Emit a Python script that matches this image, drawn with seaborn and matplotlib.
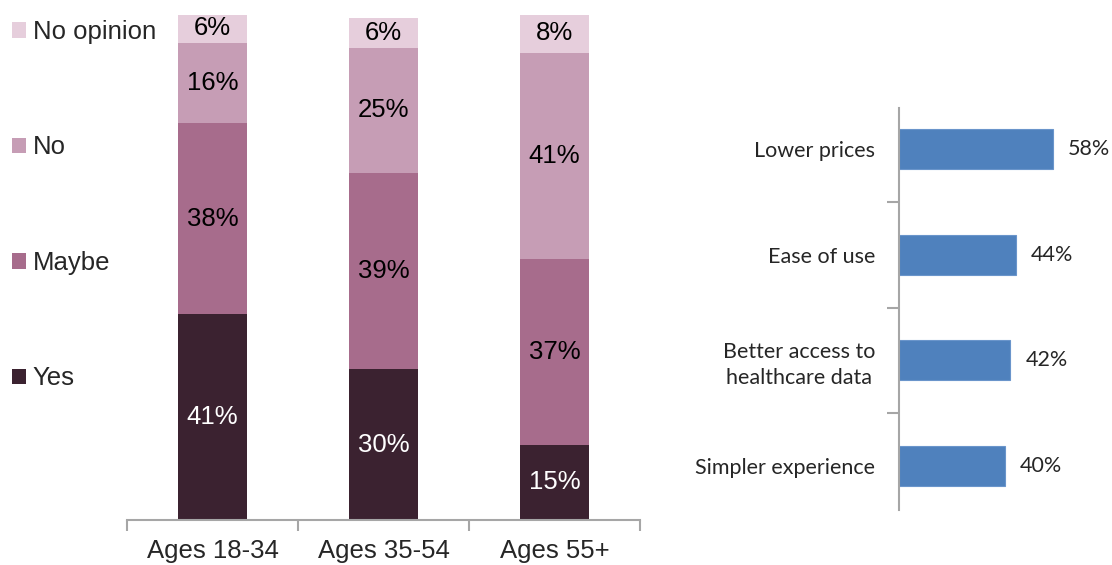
import matplotlib
matplotlib.use("Agg")
import matplotlib.pyplot as plt
import seaborn as sns
import pandas as pd
import numpy as np
from matplotlib.patches import Patch

sns.set_theme(style="white")
plt.rcParams['font.family'] = ['Liberation Sans', 'DejaVu Sans']

# ---- data ----
age_groups = ["Ages 18-34", "Ages 35-54", "Ages 55+"]
yes = [41, 30, 15]
maybe = [38, 39, 37]
no = [16, 25, 41]
no_opinion = [6, 6, 8]
answer_labels = ["Yes", "Maybe", "No", "No opinion"]

reasons = ["Lower prices", "Ease of use", "Better access to\nhealthcare data", "Simpler experience"]
reason_pct = [58, 44, 42, 40]

colors = {"Yes": "#3B2230", "Maybe": "#A76C8C", "No": "#C69DB5", "No opinion": "#E6CEDC"}
bar_blue = "#4F81BD"
axis_gray = "#A6A6A6"

W, H = 1112, 565
fig = plt.figure(figsize=(W / 100, H / 100), dpi=100)

# ---- left: stacked bars ----
axL = fig.add_axes([127 / W, 45 / H, 513 / W, 505 / H])
series = [yes, maybe, no, no_opinion]
cum = np.cumsum(np.array(series), axis=0)
for i in range(len(series) - 1, -1, -1):
    df = pd.DataFrame({"age": age_groups, "val": cum[i]})
    sns.barplot(data=df, x="age", y="val", color=colors[answer_labels[i]],
                width=0.4, ax=axL, saturation=1, edgecolor="none")

for j in range(len(age_groups)):
    bottom = 0
    for i, s in enumerate(series):
        v = s[j]
        axL.text(j, bottom + v / 2, f"{v}%", ha="center", va="center",
                 fontsize=18.5, color="white" if i == 0 else "black")
        bottom += v

axL.set_xlim(-0.5, 2.5)
axL.set_ylim(0, 100.5)
axL.set_xlabel("")
axL.set_ylabel("")
axL.set_yticks([])
for sp in ["top", "right", "left"]:
    axL.spines[sp].set_visible(False)
axL.spines["bottom"].set_color(axis_gray)
axL.spines["bottom"].set_linewidth(1.5)
axL.set_xticks([0, 1, 2])
axL.set_xticklabels(age_groups, fontsize=18.5)
axL.tick_params(axis="x", which="major", length=0, pad=14, bottom=True)
axL.set_xticks([-0.5, 0.5, 1.5, 2.5], minor=True)
axL.tick_params(axis="x", which="minor", bottom=True, length=8, width=1.5,
                color=axis_gray, direction="out")

handles = [Patch(facecolor=colors[k], edgecolor="none") for k in reversed(answer_labels)]
fig.legend(handles, list(reversed(answer_labels)), loc="upper left",
           bbox_to_anchor=(12 / W, 1 - 20 / H), frameon=False, fontsize=18.5,
           handlelength=0.55, handleheight=0.55, handletextpad=0.25,
           labelspacing=3.56, borderpad=0, borderaxespad=0)

# ---- right: horizontal bars ----
rfont = ["Lato", "DejaVu Sans"]
axR = fig.add_axes([899 / W, 55 / H, 213 / W, 402 / H])
dfr = pd.DataFrame({"reason": reasons, "pct": reason_pct})
sns.barplot(data=dfr, x="pct", y="reason", color=bar_blue, saturation=1,
            width=0.38, ax=axR, orient="h", edgecolor="#6A95CB", linewidth=0.8)
for j, v in enumerate(reason_pct):
    axR.annotate(f"{v}%", xy=(v, j), xytext=(11, 0), textcoords="offset points",
                 ha="left", va="center", fontsize=15.5, family=rfont,
                 color="#262626")
axR.set_xlim(0, 80.4)
axR.set_ylim(3.416, -0.388)
axR.set_xlabel("")
axR.set_ylabel("")
axR.set_xticks([])
for sp in ["top", "right", "bottom"]:
    axR.spines[sp].set_visible(False)
axR.spines["left"].set_color(axis_gray)
axR.spines["left"].set_linewidth(1.5)
axR.set_yticks(range(len(reasons)))
axR.set_yticklabels(reasons, fontsize=15.5, family=rfont, color="#262626",
                    ha="right", multialignment="center", linespacing=1.35)
axR.tick_params(axis="y", which="major", length=0, pad=17, left=True)
axR.set_yticks([0.5, 1.5, 2.5], minor=True)
axR.tick_params(axis="y", which="minor", left=True, length=9, width=1.5,
                color=axis_gray, direction="out")

fig.savefig("out.png", dpi=100)
